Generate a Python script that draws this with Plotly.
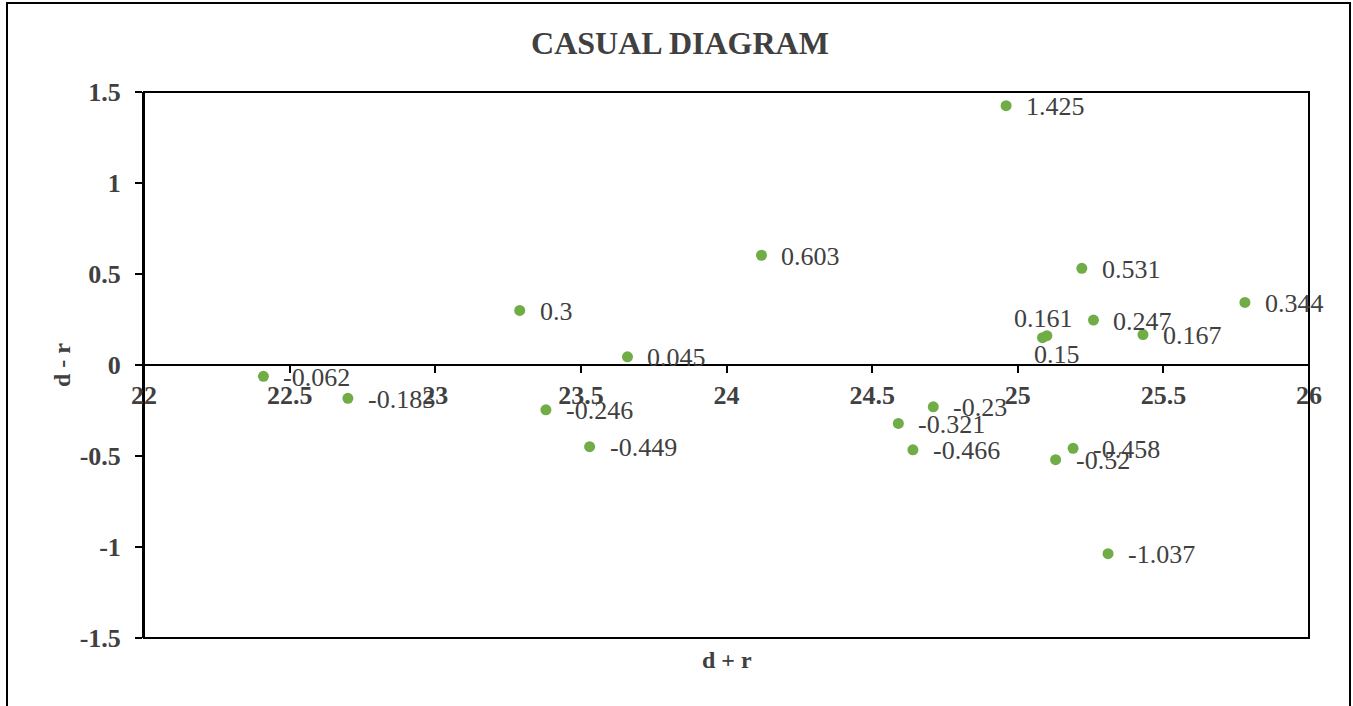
import plotly.graph_objects as go

# Data
d_plus_r = [22.41, 22.70, 23.29, 23.38, 23.53, 23.66, 24.12, 24.96, 24.59, 24.71,
            24.64, 25.085, 25.10, 25.22, 25.26, 25.43, 25.78, 25.19, 25.13, 25.31]
d_minus_r = [-0.062, -0.183, 0.3, -0.246, -0.449, 0.045, 0.603, 1.425, -0.321, -0.23,
             -0.466, 0.15, 0.161, 0.531, 0.247, 0.167, 0.344, -0.458, -0.52, -1.037]
labels = [str(v) for v in d_minus_r]

x_ticks = [22, 22.5, 23, 23.5, 24, 24.5, 25, 25.5, 26]
x_ticktext = ["22", "22.5", "23", "23.5", "24", "24.5", "25", "25.5", "26"]
y_ticks = [-1.5, -1, -0.5, 0, 0.5, 1, 1.5]
y_ticktext = ["-1.5", "-1", "-0.5", "0", "0.5", "1", "1.5"]

FONT = "Liberation Serif, Times New Roman, serif"
TXT = "#404040"

W, H = 1353, 706
L, T = 144, 92
R = W - 1309
B = H - 638
PW, PH = W - L - R, H - T - B

fig = go.Figure()
fig.add_trace(go.Scatter(
    x=d_plus_r, y=d_minus_r, mode="markers",
    marker=dict(color="#70AD47", size=11),
    showlegend=False, cliponaxis=False,
))

annotations = []
for xv, yv, t in zip(d_plus_r, d_minus_r, labels):
    a = dict(x=xv, y=yv, text=t, showarrow=False,
             font=dict(family=FONT, size=26, color=TXT))
    if t == "0.15":
        a.update(xanchor="center", yanchor="middle", xshift=14, yshift=-17)
    elif t == "0.161":
        a.update(xanchor="center", yanchor="middle", xshift=-3, yshift=17)
    else:
        a.update(xanchor="left", yanchor="middle", xshift=18, yshift=-1)
    annotations.append(a)

annotations += [
    dict(text="<b>d + r</b>", xref="paper", yref="paper", x=0.5, y=(638 - 660) / PH,
         xanchor="center", yanchor="middle", showarrow=False,
         font=dict(family=FONT, size=24, color=TXT)),
    dict(text="<b>d - r</b>", xref="paper", yref="paper", x=(62 - 144) / PW, y=0.5,
         xanchor="center", yanchor="middle", showarrow=False, textangle=-90,
         font=dict(family=FONT, size=24, color=TXT)),
]

fig.update_layout(
    width=W, height=H, autosize=False,
    margin=dict(l=L, r=R, t=T, b=B, pad=0),
    paper_bgcolor="white", plot_bgcolor="white",
    font=dict(family=FONT, color=TXT),
    title=dict(text="<b>CASUAL DIAGRAM</b>", x=680 / W, xref="container", xanchor="center",
               y=1 - 43 / H, yref="container", yanchor="middle",
               font=dict(family=FONT, size=32, color=TXT)),
    xaxis=dict(range=[22, 26], tickvals=x_ticks, ticktext=x_ticktext,
               showgrid=False, zeroline=False, showline=True, linecolor="black", linewidth=2,
               ticks="outside", ticklen=7, tickwidth=2, tickcolor="black",
               anchor="free", position=0.5,
               tickfont=dict(family=FONT, size=26, color=TXT, weight="bold")),
    yaxis=dict(range=[-1.5, 1.5], tickvals=y_ticks, ticktext=y_ticktext,
               showgrid=False, zeroline=False, showline=True, linecolor="black", linewidth=2,
               ticks="outside", ticklen=7, tickwidth=2, tickcolor="black",
               ticklabelstandoff=9,
               tickfont=dict(family=FONT, size=26, color=TXT, weight="bold")),
    shapes=[
        dict(type="rect", xref="paper", yref="paper", x0=0, x1=1, y0=0, y1=1,
             line=dict(color="black", width=2), layer="above"),
        dict(type="rect", xref="paper", yref="paper",
             x0=(7 - L) / PW, x1=(1350 - L) / PW,
             y0=(638 - 720) / PH, y1=(638 - 3) / PH,
             line=dict(color="black", width=2)),
    ],
    annotations=annotations,
)

fig.write_html("out.html",
               config={"displayModeBar": False},
               post_script="document.body.style.margin='0';document.body.style.overflow='hidden';")
